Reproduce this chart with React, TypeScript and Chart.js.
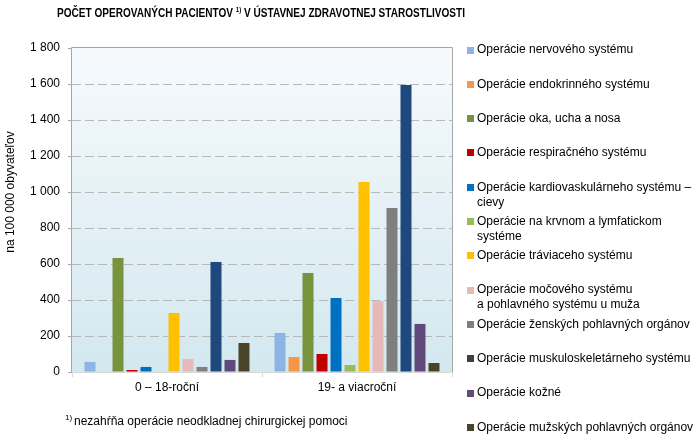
import React, { useEffect, useRef } from "react";
import { Chart, registerables } from "chart.js";

Chart.register(...registerables);

const categories = ["0 – 18-roční", "19- a viacroční"];

const seriesLabels: string[][] = [
  ["Operácie nervového systému"],
  ["Operácie endokrinného systému"],
  ["Operácie oka, ucha a nosa"],
  ["Operácie respiračného systému"],
  ["Operácie kardiovaskulárneho systému –", "cievy"],
  ["Operácie na krvnom a lymfatickom", "systéme"],
  ["Operácie tráviaceho systému"],
  ["Operácie močového systému", "a pohlavného systému u muža"],
  ["Operácie ženských pohlavných orgánov"],
  ["Operácie muskuloskeletárneho systému"],
  ["Operácie kožné"],
  ["Operácie mužských pohlavných orgánov"],
];

const valuesChildren = [56, 0, 633, 11, 28, 0, 328, 72, 28, 611, 67, 161];
const valuesAdults = [217, 83, 550, 100, 411, 39, 1056, 394, 911, 1594, 267, 50];

const barColors = [
  "#8eb4e3", "#f79646", "#77933c", "#c00000", "#0070c0", "#9bbb59",
  "#ffc000", "#e6b9b8", "#7f7f7f", "#1f497d", "#604a7b", "#4a452a",
];
const legendColors = [
  "#8eb4e3", "#f79646", "#77933c", "#c00000", "#0070c0", "#9bbb59",
  "#ffc000", "#e6b9b8", "#7f7f7f", "#404040", "#604a7b", "#4a452a",
];

const yTicks = [0, 200, 400, 600, 800, 1000, 1200, 1400, 1600, 1800];

const titleParts = ["POČET OPEROVANÝCH PACIENTOV ", "1)", " V ÚSTAVNEJ ZDRAVOTNEJ STAROSTLIVOSTI"];
const yTitle = "na 100 000 obyvateľov";
const footnote = "nezahŕňa operácie neodkladnej chirurgickej pomoci";

const FONT = "'Liberation Sans', Arial, sans-serif";

const customPlugin = {
  id: "custom",
  beforeDraw(chart: any) {
    const { ctx, chartArea: a } = chart;
    ctx.save();
    const g = ctx.createLinearGradient(0, a.top, 0, a.bottom);
    g.addColorStop(0, "#f6fafd");
    g.addColorStop(1, "#d3e8ef");
    ctx.fillStyle = g;
    ctx.fillRect(a.left, a.top, a.right - a.left, a.bottom - a.top);
    ctx.restore();
  },
  afterDraw(chart: any) {
    const { ctx, chartArea: a } = chart;
    ctx.save();
    // left, top & right border
    ctx.strokeStyle = "#a6a6a6";
    ctx.lineWidth = 1;
    ctx.setLineDash([]);
    ctx.beginPath();
    ctx.moveTo(Math.round(a.left) - 0.5, Math.round(a.bottom));
    ctx.lineTo(Math.round(a.left) - 0.5, Math.round(a.top) - 0.5);
    ctx.lineTo(Math.round(a.right) + 0.5, Math.round(a.top) - 0.5);
    ctx.lineTo(Math.round(a.right) + 0.5, Math.round(a.bottom));
    ctx.stroke();

    // title
    ctx.fillStyle = "#000";
    ctx.textBaseline = "alphabetic";
    const big = `bold 13px ${FONT}`;
    const small = `bold 8px ${FONT}`;
    ctx.font = big;
    const w0 = ctx.measureText(titleParts[0]).width;
    const w2 = ctx.measureText(titleParts[2]).width;
    ctx.font = small;
    const w1 = ctx.measureText(titleParts[1]).width;
    const total = w0 + w1 + w2;
    const targetW = 408;
    const sx = targetW / total;
    ctx.save();
    ctx.translate(57, 17);
    ctx.scale(sx, 1);
    ctx.font = big;
    ctx.fillText(titleParts[0], 0, 0);
    ctx.font = small;
    ctx.fillText(titleParts[1], w0, -5);
    ctx.font = big;
    ctx.fillText(titleParts[2], w0 + w1, 0);
    ctx.restore();

    // y title
    ctx.save();
    ctx.translate(11, 192);
    ctx.rotate(-Math.PI / 2);
    ctx.font = `12px ${FONT}`;
    ctx.textAlign = "center";
    ctx.textBaseline = "middle";
    ctx.fillText(yTitle, 0, 0);
    ctx.restore();

    // legend
    ctx.font = `12px ${FONT}`;
    ctx.textBaseline = "middle";
    ctx.textAlign = "left";
    seriesLabels.forEach((lines, i) => {
      const y0 = 50 + i * 34.3;
      ctx.fillStyle = legendColors[i];
      ctx.fillRect(467, Math.round(y0 - 3.5), 7, 7);
      ctx.fillStyle = "#000";
      lines.forEach((ln, j) => {
        ctx.fillText(ln, 477, y0 + j * 15);
      });
    });

    // footnote
    ctx.font = `8px ${FONT}`;
    ctx.textBaseline = "alphabetic";
    ctx.fillText("1)", 65, 420);
    ctx.font = `12px ${FONT}`;
    ctx.fillText(footnote, 74, 425);
    ctx.restore();
  },
};

export default function App() {
  const ref = useRef<HTMLCanvasElement>(null);
  useEffect(() => {
    document.body.style.margin = "0";
    const canvas = ref.current!;
    const datasets = seriesLabels.map((lines, i) => ({
      label: lines.join(" "),
      data: [valuesChildren[i], valuesAdults[i]],
      backgroundColor: barColors[i],
      borderWidth: 0,
      categoryPercentage: 0.884,
      barPercentage: 0.786,
    }));
    const chart = new Chart(canvas, {
      type: "bar",
      data: { labels: categories, datasets },
      options: {
        responsive: false,
        animation: false,
        devicePixelRatio: 1,
        layout: { padding: { left: 0, right: 245, top: 48, bottom: 0 } },
        plugins: {
          legend: { display: false },
          title: { display: false },
          tooltip: { enabled: false },
        },
        scales: {
          x: {
            grid: {
              offset: true,
              drawOnChartArea: false,
              drawTicks: true,
              tickLength: 5,
              tickColor: "#d9d9d9",
            },
            border: { display: true, color: "#d9d9d9", width: 1 },
            ticks: {
              color: "#000",
              font: { size: 12, family: FONT },
              padding: 3,
              maxRotation: 0,
            },
            afterFit: (s: any) => {
              s.height = 65;
            },
          },
          y: {
            min: 0,
            max: 1800,
            afterBuildTicks: (s: any) => {
              s.ticks = yTicks.map((v) => ({ value: v }));
            },
            grid: {
              color: (c: any) =>
                c.tick && (c.tick.value === 0 || c.tick.value === 1800) ? "rgba(0,0,0,0)" : "#b8b8b8",
              lineWidth: 1,
              drawTicks: true,
              tickLength: 4,
              tickColor: "#a6a6a6",
              tickBorderDash: [],
            } as any,
            border: { display: false, dash: [9, 4] } as any,
            ticks: {
              color: "#000",
              font: { size: 12, family: FONT },
              padding: 8,
              callback: (v: any) => String(v).replace(/\B(?=(\d{3})+(?!\d))/g, " "),
            },
            afterFit: (s: any) => {
              s.width = 72;
            },
          },
        },
      },
      plugins: [customPlugin],
    });
    return () => chart.destroy();
  }, []);
  return (
    <div style={{ width: 697, height: 437 }}>
      <canvas ref={ref} width={697} height={437} style={{ display: "block" }} />
    </div>
  );
}
